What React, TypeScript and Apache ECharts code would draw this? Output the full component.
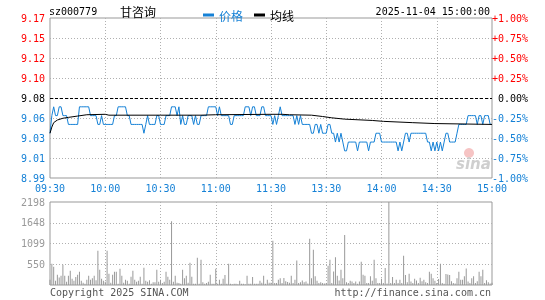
import React, { useEffect, useRef } from "react";
import * as echarts from "echarts";

const PRE_CLOSE = 9.08;
const STOCK_CODE = "sz000779";
const STOCK_NAME = "甘咨询";
const DATETIME = "2025-11-04 15:00:00";
const timeLabels = ["09:30", "10:00", "10:30", "11:00", "11:30", "13:30", "14:00", "14:30", "15:00"];
// bottom -> top
const priceLabels = ["8.99", "9.01", "9.03", "9.06", "9.08", "9.10", "9.12", "9.15", "9.17"];
const pctLabels = ["-1.00%", "-0.75%", "-0.50%", "-0.25%", "0.00%", "+0.25%", "+0.50%", "+0.75%", "+1.00%"];
const VOL_MAX = 2198;
const volLabels = ["", "550", "1099", "1648", "2198"];

// one value per minute, 09:30..11:30 then 13:01..15:00
const prices = [
  9.04, 9.06, 9.07, 9.06, 9.06, 9.07, 9.07, 9.06, 9.06, 9.06,
  9.05, 9.05, 9.05, 9.05, 9.05, 9.05, 9.07, 9.07, 9.07, 9.07,
  9.07, 9.07, 9.06, 9.06, 9.06, 9.06, 9.05, 9.05, 9.06, 9.05,
  9.05, 9.05, 9.05, 9.05, 9.05, 9.06, 9.06, 9.07, 9.07, 9.07,
  9.07, 9.07, 9.06, 9.06, 9.05, 9.05, 9.05, 9.05, 9.05, 9.05,
  9.05, 9.04, 9.05, 9.06, 9.05, 9.05, 9.05, 9.05, 9.06, 9.06,
  9.05, 9.05, 9.05, 9.06, 9.06, 9.06, 9.07, 9.07, 9.07, 9.06,
  9.07, 9.05, 9.06, 9.05, 9.05, 9.06, 9.06, 9.06, 9.05, 9.06,
  9.05, 9.05, 9.06, 9.06, 9.06, 9.06, 9.07, 9.07, 9.07, 9.07,
  9.07, 9.06, 9.07, 9.06, 9.06, 9.06, 9.06, 9.06, 9.05, 9.05,
  9.06, 9.06, 9.06, 9.06, 9.06, 9.06, 9.07, 9.07, 9.07, 9.06,
  9.07, 9.07, 9.06, 9.06, 9.06, 9.07, 9.07, 9.06, 9.06, 9.06,
  9.06, 9.05, 9.06, 9.05, 9.06, 9.07, 9.06, 9.06, 9.06, 9.06,
  9.06, 9.06, 9.06, 9.05, 9.06, 9.05, 9.06, 9.05, 9.05, 9.05,
  9.05, 9.05, 9.04, 9.04, 9.05, 9.05, 9.04, 9.05, 9.04, 9.04,
  9.04, 9.05, 9.05, 9.04, 9.04, 9.03, 9.04, 9.03, 9.04, 9.03,
  9.02, 9.02, 9.03, 9.03, 9.03, 9.03, 9.03, 9.02, 9.03, 9.03,
  9.03, 9.03, 9.03, 9.02, 9.03, 9.03, 9.03, 9.04, 9.04, 9.04,
  9.03, 9.03, 9.03, 9.03, 9.03, 9.03, 9.03, 9.03, 9.03, 9.02,
  9.03, 9.02, 9.03, 9.04, 9.04, 9.03, 9.04, 9.04, 9.04, 9.04,
  9.04, 9.04, 9.04, 9.04, 9.04, 9.03, 9.03, 9.02, 9.03, 9.02,
  9.03, 9.02, 9.03, 9.02, 9.03, 9.04, 9.04, 9.03, 9.03, 9.03,
  9.03, 9.04, 9.05, 9.05, 9.05, 9.05, 9.05, 9.06, 9.06, 9.06,
  9.06, 9.06, 9.05, 9.06, 9.06, 9.05, 9.06, 9.06, 9.06, 9.05,
  9.05,
];

// average price line, read at [minute index, price]
const avgPoints: [number, number][] = [
  [0, 9.04], [1, 9.047], [2, 9.052], [4, 9.055], [7, 9.057], [10, 9.058],
  [15, 9.0595], [20, 9.061], [30, 9.0615], [32, 9.0605], [60, 9.0605],
  [82, 9.0605], [90, 9.061], [120, 9.0615], [126, 9.0615], [130, 9.061],
  [142, 9.0605], [148, 9.059], [153, 9.0575], [160, 9.056], [175, 9.0545],
  [181, 9.0535], [197, 9.052], [209, 9.051], [240, 9.05],
];

const volumes = [
  140, 563, 483, 114, 272, 200, 246, 536, 246, 88,
  246, 378, 167, 114, 211, 272, 352, 114, 62, 35,
  140, 246, 140, 176, 246, 123, 905, 404, 167, 114,
  88, 905, 299, 62, 272, 352, 352, 35, 431, 246,
  62, 140, 114, 35, 220, 378, 140, 88, 114, 220,
  35, 457, 114, 88, 123, 35, 70, 70, 404, 88,
  140, 53, 88, 352, 220, 140, 1688, 88, 246, 62,
  53, 35, 404, 176, 246, 60, 589, 220, 35, 35,
  721, 35, 668, 70, 35, 53, 88, 272, 35, 35,
  431, 35, 140, 35, 167, 264, 35, 563, 35, 20,
  35, 35, 20, 114, 35, 35, 20, 246, 35, 35,
  211, 35, 35, 35, 114, 62, 246, 35, 140, 62,
  60,
  1170, 50, 50, 140, 176, 50, 185, 100, 80, 60,
  246, 50, 140, 650, 50, 70, 120, 70, 90, 40,
  1222, 176, 932, 229, 110, 50, 70, 50, 40, 50,
  510, 668, 50, 360, 738, 246, 120, 404, 176, 1327,
  70, 50, 110, 90, 50, 90, 35, 90, 615, 272,
  246, 50, 50, 229, 110, 668, 176, 50, 50, 167,
  50, 448, 40, 2198, 50, 211, 50, 140, 50, 140,
  50, 773, 264, 70, 299, 90, 50, 167, 120, 50,
  193, 100, 140, 70, 50, 352, 299, 176, 110, 50,
  160, 563, 50, 35, 290, 281, 264, 100, 50, 40,
  176, 352, 140, 140, 229, 440, 90, 50, 176, 229,
  50, 97, 352, 229, 404, 50, 123, 70, 40, 60,
];

const RED = "#ff0000";
const BLUE = "#1581d6";
const GRAY = "#999999";
const GRID_LINE = "#b0b0b0";
const MONO = "'DejaVu Sans Mono', 'Liberation Mono', monospace";
const CJK = "'Noto Sans CJK SC', sans-serif";

const toPct = (p: number) => ((p - PRE_CLOSE) / PRE_CLOSE) * 100;
const pctIndex = (v: any) => Math.round((Number(v) + 1) / 0.25);
const signColor = (v: any) => {
  const n = Number(v);
  if (Math.abs(n) < 1e-9) return "#000";
  return n > 0 ? RED : BLUE;
};

export default function App() {
  const ref = useRef<HTMLDivElement>(null);
  useEffect(() => {
    if (!ref.current) return;
    const chart = echarts.init(ref.current, undefined, { renderer: "svg" });
    const dotted = { color: GRID_LINE, type: [1, 2] as any, width: 1 };
    const option: any = {
      animation: false,
      textStyle: { fontFamily: MONO },
      legend: {
        left: 198,
        top: 4,
        itemWidth: 11,
        itemHeight: 3,
        itemGap: 11,
        icon: "rect",
        textStyle: { fontSize: 12, fontFamily: CJK },
        data: [
          { name: "价格", textStyle: { color: BLUE } },
          { name: "均线", textStyle: { color: "#000" } },
        ],
      },
      grid: [
        { left: 50, right: 53, top: 18, height: 160, show: true, borderColor: GRAY, borderWidth: 1, backgroundColor: "transparent" },
        { left: 50, right: 53, top: 202, height: 83, show: true, borderColor: GRAY, borderWidth: 1, backgroundColor: "transparent" },
      ],
      xAxis: [
        {
          type: "value", gridIndex: 0, min: 0, max: 240, interval: 30,
          axisLine: { show: false }, axisTick: { show: false },
          axisLabel: {
            color: BLUE, fontSize: 10, fontFamily: MONO, margin: 5,
            formatter: (v: number) => timeLabels[Math.round(v / 30)] ?? "",
          },
          splitLine: { show: true, showMinLine: false, showMaxLine: false, lineStyle: dotted },
        },
        {
          type: "value", gridIndex: 1, min: 0, max: 240, interval: 30,
          axisLine: { show: false }, axisTick: { show: false }, axisLabel: { show: false },
          splitLine: { show: true, showMinLine: false, showMaxLine: false, lineStyle: dotted },
        },
      ],
      yAxis: [
        {
          type: "value", gridIndex: 0, min: -1, max: 1, interval: 0.25,
          axisLine: { show: false }, axisTick: { show: false },
          axisLabel: {
            fontSize: 10, fontFamily: MONO, margin: 5,
            formatter: (v: number) => priceLabels[pctIndex(v)] ?? "",
            color: (v: any) => signColor(v),
          },
          splitLine: { show: true, showMinLine: false, showMaxLine: false, lineStyle: dotted },
        },
        {
          type: "value", gridIndex: 0, position: "right", min: -1, max: 1, interval: 0.25,
          axisLine: { show: false }, axisTick: { show: false },
          axisLabel: {
            fontSize: 10, fontFamily: MONO, margin: 36, align: "right",
            formatter: (v: number) => pctLabels[pctIndex(v)] ?? "",
            color: (v: any) => signColor(v),
          },
          splitLine: { show: false },
        },
        {
          type: "value", gridIndex: 1, min: 0, max: VOL_MAX, interval: VOL_MAX / 4,
          axisLine: { show: false }, axisTick: { show: false },
          axisLabel: {
            fontSize: 10, fontFamily: MONO, margin: 5, color: GRAY,
            formatter: (v: number) => volLabels[Math.round(v / (VOL_MAX / 4))] ?? "",
          },
          splitLine: { show: true, showMinLine: false, showMaxLine: false, lineStyle: dotted },
        },
      ],
      series: [
        {
          name: "价格", type: "line", xAxisIndex: 0, yAxisIndex: 0,
          data: prices.map((p, i) => [i, toPct(p)]),
          symbol: "none", lineStyle: { color: BLUE, width: 1 }, itemStyle: { color: BLUE },
          markLine: {
            silent: true, symbol: "none", label: { show: false },
            lineStyle: { color: "#000", type: [3, 2], width: 1 },
            data: [{ yAxis: 0 }],
          },
        },
        {
          name: "均线", type: "line", xAxisIndex: 0, yAxisIndex: 0,
          data: avgPoints.map(([i, p]) => [i, toPct(p)]),
          symbol: "none", lineStyle: { color: "#000", width: 1 }, itemStyle: { color: "#000" },
        },
        {
          name: "成交量", type: "bar", xAxisIndex: 1, yAxisIndex: 2,
          data: volumes.map((v, i) => [i, v]),
          barWidth: 1, itemStyle: { color: GRAY },
        },
      ],
      graphic: [
        { type: "text", x: 49, y: 11, style: { text: STOCK_CODE, fill: "#000", fontSize: 10, fontFamily: MONO, verticalAlign: "middle" } },
        { type: "text", x: 120, y: 11, style: { text: STOCK_NAME, fill: "#000", fontSize: 12, fontFamily: CJK, verticalAlign: "middle" } },
        { type: "text", x: 490, y: 11, style: { text: DATETIME, fill: "#000", fontSize: 10, fontFamily: MONO, align: "right", verticalAlign: "middle" } },
        { type: "text", x: 50, y: 292, style: { text: "Copyright 2025 SINA.COM", fill: "#555", fontSize: 10, fontFamily: MONO, verticalAlign: "middle" } },
        { type: "text", x: 491, y: 292, style: { text: "http://finance.sina.com.cn", fill: "#555", fontSize: 10, fontFamily: MONO, align: "right", verticalAlign: "middle" } },
        { type: "circle", shape: { cx: 469, cy: 153, r: 5 }, style: { fill: "#f6c4c4" }, z: 1 },
        { type: "text", x: 456, y: 164, z: 1, style: { text: "sina", fill: "#cfcfcf", fontSize: 15, fontWeight: "bold", fontStyle: "italic", fontFamily: "'DejaVu Sans', sans-serif", verticalAlign: "middle" } },
      ],
    };
    chart.setOption(option);
    return () => chart.dispose();
  }, []);
  return <div ref={ref} style={{ position: "fixed", left: 0, top: 0, width: 545, height: 300 }} />;
}
